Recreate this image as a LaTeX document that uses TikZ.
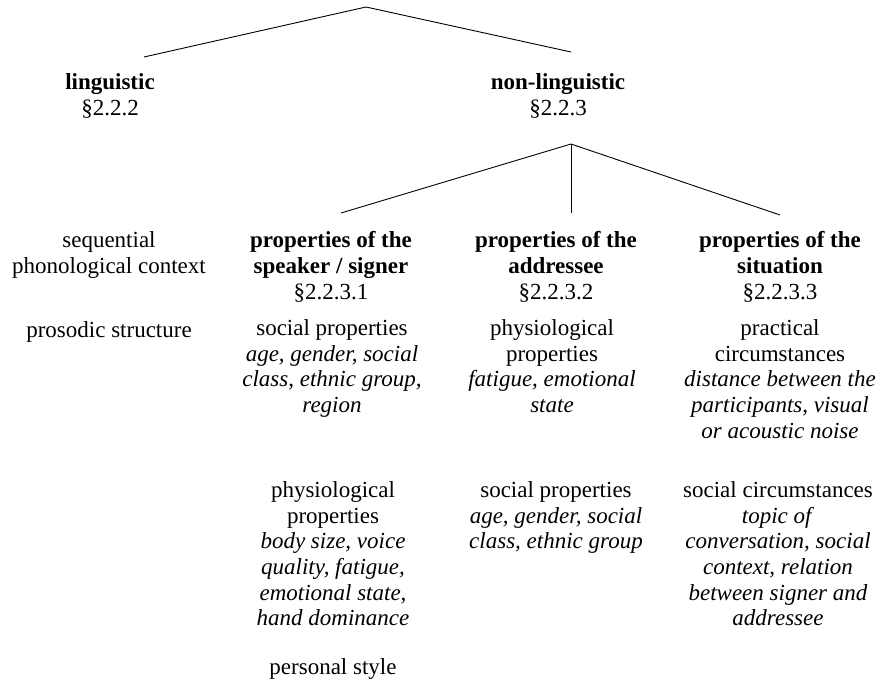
\documentclass[tikz,border=0pt]{standalone}
\usepackage{fontspec}
\setmainfont{Liberation Serif}
\usepackage{tikz}

\begin{document}
\begin{tikzpicture}[x=1pt, y=-1pt, line width=0.9pt,
  every node/.style={font=\fontsize{23}{25.7}\selectfont, align=center, inner sep=0pt, anchor=north, execute at begin node=\strut}]
  \useasboundingbox (0,0) rectangle (880,690);
  % upper level
  \coordinate (root) at (366,7);
  \coordinate (lingtop) at (144,57);
  \coordinate (nontop) at (571,52);
  \node (ling) at (110,73) {\textbf{linguistic}\\§2.2.2};
  \node (nonling) at (558,73) {\textbf{non-linguistic}\\§2.2.3};
  \draw (lingtop) -- (root) -- (nontop);
  % lower level
  \coordinate (fork) at (571,144);
  \coordinate (spktop) at (341,213);
  \coordinate (adrtop) at (571,213);
  \coordinate (sittop) at (780,215);
  \draw (fork) -- (spktop);
  \draw (fork) -- (adrtop);
  \draw (fork) -- (sittop);
  % linguistic column
  \node (seq) at (109,231) {sequential\\phonological context};
  \node (pros) at (109,319) {prosodic structure};
  % speaker column
  \node (spk) at (331,231) {\textbf{properties of the}\\\textbf{speaker / signer}\\§2.2.3.1};
  \node (spksoc) at (332,319) {social properties\\\textit{age, gender, social}\\\textit{class, ethnic group,}\\\textit{region}};
  \node (spkphys) at (333,481) {physiological\\properties\\\textit{body size, voice}\\\textit{quality, fatigue,}\\\textit{emotional state,}\\\textit{hand dominance}};
  \node (spkpers) at (333,656) {personal style};
  % addressee column
  \node (adr) at (556,231) {\textbf{properties of the}\\\textbf{addressee}\\§2.2.3.2};
  \node (adrphys) at (552,319) {physiological\\properties\\\textit{fatigue, emotional}\\\textit{state}};
  \node (adrsoc) at (556,481) {social properties\\\textit{age, gender, social}\\\textit{class, ethnic group}};
  % situation column
  \node (sit) at (780,231) {\textbf{properties of the}\\\textbf{situation}\\§2.2.3.3};
  \node (sitprac) at (780,319) {practical\\circumstances\\\textit{distance between the}\\\textit{participants, visual}\\\textit{or acoustic noise}};
  \node (sitsoc) at (778,481) {social circumstances\\\textit{topic of}\\\textit{conversation, social}\\\textit{context, relation}\\\textit{between signer and}\\\textit{addressee}};
\end{tikzpicture}
\end{document}
